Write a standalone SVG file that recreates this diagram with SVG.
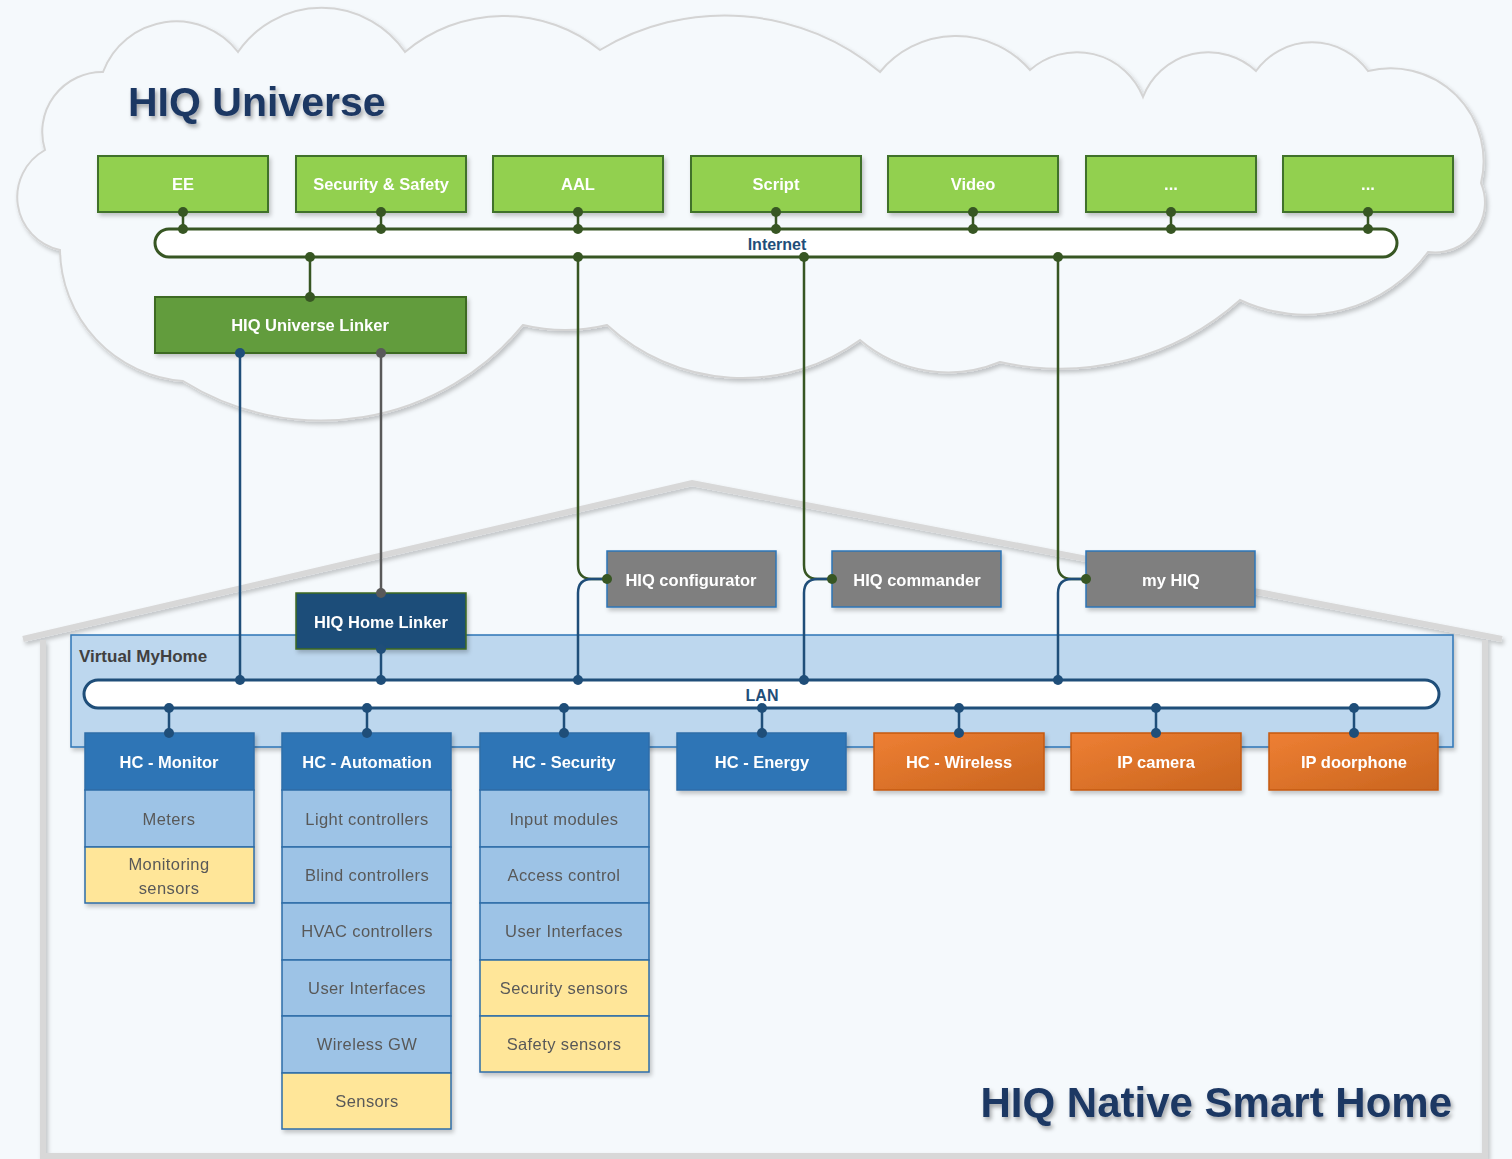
<svg xmlns="http://www.w3.org/2000/svg" width="1512" height="1159" viewBox="0 0 1512 1159">
<defs>
<filter id="sh" x="-10%" y="-10%" width="120%" height="130%"><feDropShadow dx="2" dy="3" stdDeviation="2" flood-color="#000" flood-opacity="0.22"/></filter>
<filter id="tsh" x="-10%" y="-20%" width="120%" height="150%"><feDropShadow dx="2" dy="3" stdDeviation="2" flood-color="#000" flood-opacity="0.35"/></filter>
<linearGradient id="og" x1="0" y1="0" x2="1" y2="1"><stop offset="0" stop-color="#ee7f33"/><stop offset="1" stop-color="#c9651f"/></linearGradient>
<style>
.bg{fill:#f5f9fc}
.cloud{fill:#f5f9fc;stroke:#d4d4d4;stroke-width:2}
.house{fill:none;stroke:#d8d8d8;stroke-width:6;stroke-linejoin:miter}
.title{font-family:"Liberation Sans",Arial,sans-serif;font-weight:bold;fill:#1f3864}
.gbox{fill:#92d050;stroke:#41712b;stroke-width:2}
.lbox{fill:#629c3c;stroke:#3e6a20;stroke-width:2}
.hlbox{fill:#1f4e79;stroke:#3e6a20;stroke-width:1.5}
.grey{fill:#7f7f7f;stroke:#2e75b6;stroke-width:1.5}
.hc{fill:#2e75b6;stroke:#2e6da8;stroke-width:1.5}
.or{fill:url(#og);stroke:#c55a11;stroke-width:1.5}
.sub{fill:#9dc3e6;stroke:#2e6da8;stroke-width:1.5}
.ysub{fill:#ffe699;stroke:#2e6da8;stroke-width:1.5}
.wt{font-family:"Liberation Sans",Arial,sans-serif;font-weight:bold;font-size:16.5px;fill:#fff;text-anchor:middle}
.st{font-family:"Liberation Sans",Arial,sans-serif;font-size:16.5px;fill:#595959;text-anchor:middle;letter-spacing:0.4px}
.bus{fill:#fff;stroke-width:3}
.g{stroke:#375623;fill:none;stroke-width:2.5}
.b{stroke:#1f4e79;fill:none;stroke-width:2.5}
.k{stroke:#595959;fill:none;stroke-width:2.5}
.gd{fill:#375623}
.bd{fill:#1f4e79}
.kd{fill:#595959}
.bl{font-family:"Liberation Sans",Arial,sans-serif;font-weight:bold;font-size:16px;fill:#1f4e79;text-anchor:middle}
</style>
</defs>
<rect class="bg" x="0" y="0" width="1512" height="1159"/>

<g id="cloud" filter="url(#sh)">
<path class="cloud" d="M45,150 A60,60 0 0 1 103,72 A78,78 0 0 1 238,52 A101,101 0 0 1 405,52 A153,153 0 0 1 600,50 A242,242 0 0 1 880,72 A98,98 0 0 1 1030,70 A71,71 0 0 1 1143,97 A70,70 0 0 1 1256,71 A69,69 0 0 1 1368,71 A93,93 0 0 1 1481,183 A50,50 0 0 1 1428,252 A152,152 0 0 1 1240,300 A271,271 0 0 1 1000,362 A136,136 0 0 1 860,340 A200,200 0 0 1 607,325 A179,179 0 0 1 523,325 A261,261 0 0 1 183,381 A133,133 0 0 1 60,250 A54,54 0 0 1 45,150 Z"/>
</g>

<g id="house" filter="url(#sh)">
<polyline class="house" points="23,639 692,483 1502,639"/>
<polyline class="house" points="43,640 43,1156 1485,1156 1485,640"/>
</g>

<text class="title" x="128" y="116" font-size="41" filter="url(#tsh)">HIQ Universe</text>
<text class="title" x="1452" y="1117" font-size="42" text-anchor="end" filter="url(#tsh)">HIQ Native Smart Home</text>

<g id="virtual-myhome">
<rect x="71" y="635" width="1382" height="112" fill="#bdd7ee" stroke="#2e75b6" stroke-width="1.5" filter="url(#sh)"/>
<text x="79" y="662" font-family="Liberation Sans,Arial,sans-serif" font-weight="bold" font-size="17" fill="#404040">Virtual MyHome</text>
</g>

<g id="internet-bus">
<rect class="bus" x="155" y="229" width="1242" height="28" rx="14" stroke="#375623"/>
<text class="bl" x="777" y="250">Internet</text>
</g>
<g id="lan-bus">
<rect class="bus" x="84" y="680" width="1355" height="28" rx="14" stroke="#1f4e79"/>
<text class="bl" x="762" y="701">LAN</text>
</g>

<g id="services" filter="url(#sh)">
<g id="n-ee"><rect class="gbox" x="98" y="156" width="170" height="56"/><text class="wt" x="183" y="190">EE</text></g>
<g id="n-secsafe"><rect class="gbox" x="296" y="156" width="170" height="56"/><text class="wt" x="381" y="190">Security &amp; Safety</text></g>
<g id="n-aal"><rect class="gbox" x="493" y="156" width="170" height="56"/><text class="wt" x="578" y="190">AAL</text></g>
<g id="n-script"><rect class="gbox" x="691" y="156" width="170" height="56"/><text class="wt" x="776" y="190">Script</text></g>
<g id="n-video"><rect class="gbox" x="888" y="156" width="170" height="56"/><text class="wt" x="973" y="190">Video</text></g>
<g id="n-more1"><rect class="gbox" x="1086" y="156" width="170" height="56"/><text class="wt" x="1171" y="190">...</text></g>
<g id="n-more2"><rect class="gbox" x="1283" y="156" width="170" height="56"/><text class="wt" x="1368" y="190">...</text></g>
<g id="n-ulinker"><rect class="lbox" x="155" y="297" width="311" height="56"/><text class="wt" x="310" y="331">HIQ Universe Linker</text></g>
<g id="n-hlinker"><rect class="hlbox" x="296" y="593" width="170" height="56"/><text class="wt" x="381" y="628">HIQ Home Linker</text></g>
<g id="n-config"><rect class="grey" x="607" y="551" width="169" height="56"/><text class="wt" x="691" y="586">HIQ configurator</text></g>
<g id="n-commander"><rect class="grey" x="832" y="551" width="169" height="56"/><text class="wt" x="917" y="586">HIQ commander</text></g>
<g id="n-myhiq"><rect class="grey" x="1086" y="551" width="169" height="56"/><text class="wt" x="1171" y="586">my HIQ</text></g>
</g>

<g id="controllers" filter="url(#sh)">
<g id="n-monitor">
<rect class="hc" x="85" y="733" width="169" height="57"/><text class="wt" x="169" y="768">HC - Monitor</text>
<rect class="sub" x="85" y="790" width="169" height="57"/><text class="st" x="169" y="825">Meters</text>
<rect class="ysub" x="85" y="847" width="169" height="56"/><text class="st" x="169" y="870">Monitoring</text><text class="st" x="169" y="894">sensors</text>
</g>
<g id="n-automation">
<rect class="hc" x="282" y="733" width="169" height="57"/><text class="wt" x="367" y="768">HC - Automation</text>
<rect class="sub" x="282" y="790" width="169" height="57"/><text class="st" x="367" y="825">Light controllers</text>
<rect class="sub" x="282" y="847" width="169" height="56"/><text class="st" x="367" y="881">Blind  controllers</text>
<rect class="sub" x="282" y="903" width="169" height="57"/><text class="st" x="367" y="937">HVAC  controllers</text>
<rect class="sub" x="282" y="960" width="169" height="56"/><text class="st" x="367" y="994">User Interfaces</text>
<rect class="sub" x="282" y="1016" width="169" height="57"/><text class="st" x="367" y="1050">Wireless GW</text>
<rect class="ysub" x="282" y="1073" width="169" height="56"/><text class="st" x="367" y="1107">Sensors</text>
</g>
<g id="n-security">
<rect class="hc" x="480" y="733" width="169" height="57"/><text class="wt" x="564" y="768">HC - Security</text>
<rect class="sub" x="480" y="790" width="169" height="57"/><text class="st" x="564" y="825">Input modules</text>
<rect class="sub" x="480" y="847" width="169" height="56"/><text class="st" x="564" y="881">Access control</text>
<rect class="sub" x="480" y="903" width="169" height="57"/><text class="st" x="564" y="937">User Interfaces</text>
<rect class="ysub" x="480" y="960" width="169" height="56"/><text class="st" x="564" y="994">Security sensors</text>
<rect class="ysub" x="480" y="1016" width="169" height="56"/><text class="st" x="564" y="1050">Safety sensors</text>
</g>
<g id="n-energy"><rect class="hc" x="677" y="733" width="169" height="57"/><text class="wt" x="762" y="768">HC - Energy</text></g>
<g id="n-wireless"><rect class="or" x="874" y="733" width="170" height="57"/><text class="wt" x="959" y="768" font-weight="normal">HC - Wireless</text></g>
<g id="n-ipcam"><rect class="or" x="1071" y="733" width="170" height="57"/><text class="wt" x="1156" y="768" font-weight="normal">IP camera</text></g>
<g id="n-door"><rect class="or" x="1269" y="733" width="169" height="57"/><text class="wt" x="1354" y="768" font-weight="normal">IP doorphone</text></g>
</g>

<g id="connectors">
<path class="g" d="M183,212V229M381,212V229M578,212V229M776,212V229M973,212V229M1171,212V229M1368,212V229"/>
<path class="g" d="M310,257V297"/>
<path class="b" d="M240,353V680"/>
<path class="k" d="M381,353V593"/>
<path class="b" d="M381,649V680"/>
<path class="g" d="M578,257V565Q578,579 592,579H607"/>
<path class="b" d="M607,579H592Q578,579 578,593V680"/>
<path class="g" d="M804,257V565Q804,579 818,579H832"/>
<path class="b" d="M832,579H818Q804,579 804,593V680"/>
<path class="g" d="M1058,257V565Q1058,579 1072,579H1086"/>
<path class="b" d="M1086,579H1072Q1058,579 1058,593V680"/>
<path class="b" d="M169,708V733M367,708V733M564,708V733M762,708V733M959,708V733M1156,708V733M1354,708V733"/>
<g class="gd">
<circle cx="183" cy="212" r="5"/><circle cx="183" cy="229" r="5"/>
<circle cx="381" cy="212" r="5"/><circle cx="381" cy="229" r="5"/>
<circle cx="578" cy="212" r="5"/><circle cx="578" cy="229" r="5"/>
<circle cx="776" cy="212" r="5"/><circle cx="776" cy="229" r="5"/>
<circle cx="973" cy="212" r="5"/><circle cx="973" cy="229" r="5"/>
<circle cx="1171" cy="212" r="5"/><circle cx="1171" cy="229" r="5"/>
<circle cx="1368" cy="212" r="5"/><circle cx="1368" cy="229" r="5"/>
<circle cx="310" cy="257" r="5"/><circle cx="310" cy="297" r="5"/>
<circle cx="578" cy="257" r="5"/><circle cx="804" cy="257" r="5"/><circle cx="1058" cy="257" r="5"/>
<circle cx="607" cy="579" r="5"/><circle cx="832" cy="579" r="5"/><circle cx="1086" cy="579" r="5"/>
</g>
<g class="bd">
<circle cx="240" cy="353" r="5"/><circle cx="240" cy="680" r="5"/>
<circle cx="381" cy="649" r="5"/><circle cx="381" cy="680" r="5"/>
<circle cx="578" cy="680" r="5"/><circle cx="804" cy="680" r="5"/><circle cx="1058" cy="680" r="5"/>
<circle cx="169" cy="708" r="5"/><circle cx="169" cy="733" r="5"/>
<circle cx="367" cy="708" r="5"/><circle cx="367" cy="733" r="5"/>
<circle cx="564" cy="708" r="5"/><circle cx="564" cy="733" r="5"/>
<circle cx="762" cy="708" r="5"/><circle cx="762" cy="733" r="5"/>
<circle cx="959" cy="708" r="5"/><circle cx="959" cy="733" r="5"/>
<circle cx="1156" cy="708" r="5"/><circle cx="1156" cy="733" r="5"/>
<circle cx="1354" cy="708" r="5"/><circle cx="1354" cy="733" r="5"/>
</g>
<g class="kd"><circle cx="381" cy="353" r="5"/><circle cx="381" cy="593" r="5"/></g>
</g>
</svg>
